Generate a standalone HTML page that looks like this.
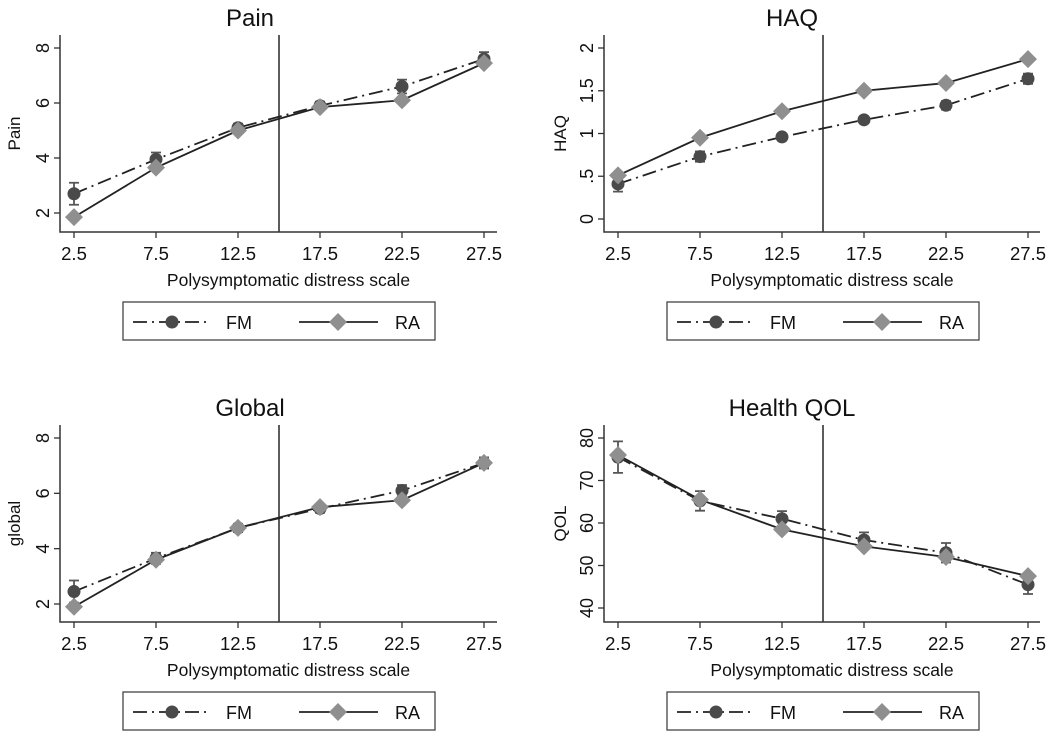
<!DOCTYPE html>
<html><head><meta charset="utf-8">
<style>
html,body{margin:0;padding:0;background:#fff;}
svg{display:block;font-family:"Liberation Sans",Arial,sans-serif;}
</style></head>
<body>
<svg id="fig" width="1050" height="735" viewBox="0 0 1050 735"></svg>
<script>
const xCategories = [2.5, 7.5, 12.5, 17.5, 22.5, 27.5];
const xTickLabels = ["2.5","7.5","12.5","17.5","22.5","27.5"];
const cutoff = 15;

const painFM = [2.7, 3.95, 5.1, 5.9, 6.6, 7.6];
const painFMerr = [0.4, 0.25, 0.15, 0.15, 0.25, 0.25];
const painRA = [1.85, 3.65, 5.0, 5.85, 6.1, 7.45];
const painTicks = [2, 4, 6, 8];
const painTickLabels = ["2","4","6","8"];

const haqFM = [0.41, 0.73, 0.96, 1.16, 1.33, 1.64];
const haqFMerr = [0.09, 0.06, 0.04, 0.04, 0.05, 0.06];
const haqRA = [0.51, 0.95, 1.26, 1.5, 1.59, 1.87];
const haqTicks = [0, 0.5, 1, 1.5, 2];
const haqTickLabels = ["0",".5","1","1.5","2"];

const globalFM = [2.45, 3.65, 4.75, 5.45, 6.1, 7.1];
const globalFMerr = [0.4, 0.2, 0.15, 0.15, 0.2, 0.2];
const globalRA = [1.9, 3.6, 4.75, 5.5, 5.75, 7.1];
const globalTicks = [2, 4, 6, 8];
const globalTickLabels = ["2","4","6","8"];

const qolFM = [75.5, 65.2, 61, 56, 53, 45.5];
const qolFMerr = [3.7, 2.3, 1.8, 1.8, 2.3, 2.2];
const qolRA = [76, 65.5, 58.5, 54.5, 52, 47.5];
const qolTicks = [40, 50, 60, 70, 80];
const qolTickLabels = ["40","50","60","70","80"];

const NS = "http://www.w3.org/2000/svg";
const svg = document.getElementById('fig');
function mk(tag, attrs, parent, text) {
  const e = document.createElementNS(NS, tag);
  for (const k in attrs) e.setAttribute(k, attrs[k]);
  if (text !== undefined) e.textContent = text;
  (parent || svg).appendChild(e);
  return e;
}

function panel(o) {
  const g = mk('g', {});
  
  
  const xs = v => o.x0 + (v - 2.5) / 25 * (o.x1 - o.x0);
  const ys = v => o.y0 + (v - o.v0) / (o.v1 - o.v0) * (o.y1 - o.y0);
  const t = mk('text', {x: o.tx, y: o.top - 9, 'font-size': 24, 'text-anchor': 'middle', fill: '#111'}, g, o.title);
  
  
  const ax = mk('path', {d: `M${o.left},${o.top}V${o.bottom}H${o.right}`, stroke: '#333', 'stroke-width': 1.5, fill: 'none'}, g);
  
  
  o.ticks.forEach((v, i) => {
    const y = ys(v);
    mk('line', {x1: o.left - 6, x2: o.left, y1: y, y2: y, stroke: '#333', 'stroke-width': 1.3}, g);
    const lb = mk('text', {x: 0, y: 0, transform: `translate(${o.left - 11},${y}) rotate(-90)`, 'font-size': 18, 'text-anchor': 'middle', fill: '#111'}, g, o.tickLabels[i]);
    
    
  });
  const yt = mk('text', {x: 0, y: 0, transform: `translate(${o.ylabX},${(o.top + o.bottom) / 2}) rotate(-90)`, 'font-size': 17, 'text-anchor': 'middle', fill: '#111'}, g, o.ylab);
  
  
  xCategories.forEach((v, i) => {
    const x = xs(v);
    mk('line', {x1: x, x2: x, y1: o.bottom, y2: o.bottom + 6, stroke: '#333', 'stroke-width': 1.3}, g);
    const lb = mk('text', {x: x, y: o.bottom + 28, 'font-size': 18.5, 'text-anchor': 'middle', fill: '#111'}, g, xTickLabels[i]);
    
    
  });
  const xt = mk('text', {x: (o.left + o.right) / 2 + 10, y: o.bottom + 54, 'font-size': 17.5, 'text-anchor': 'middle', fill: '#111'}, g, 'Polysymptomatic distress scale');
  
  
  const cl = mk('line', {x1: xs(cutoff), x2: xs(cutoff), y1: o.top, y2: o.bottom, stroke: '#333', 'stroke-width': 1.6}, g);
  
  
  xCategories.forEach((v, i) => {
    const x = xs(v), a = ys(o.fm[i] - o.err[i]), b = ys(o.fm[i] + o.err[i]);
    const eb = mk('path', {d: `M${x},${a}V${b}M${x - 5},${a}H${x + 5}M${x - 5},${b}H${x + 5}`, stroke: '#555', 'stroke-width': 1.8, fill: 'none'}, g);
    
    
  });
  const fmPts = xCategories.map((v, i) => xs(v) + ',' + ys(o.fm[i])).join(' ');
  const raPts = xCategories.map((v, i) => xs(v) + ',' + ys(o.ra[i])).join(' ');
  const fl = mk('polyline', {points: fmPts, stroke: '#222', 'stroke-width': 1.8, fill: 'none', 'stroke-dasharray': '14,5,2,5'}, g);
  
  
  const rl = mk('polyline', {points: raPts, stroke: '#222', 'stroke-width': 1.8, fill: 'none'}, g);
  
  
  xCategories.forEach((v, i) => {
    const c = mk('circle', {cx: xs(v), cy: ys(o.fm[i]), r: 6.5, fill: '#4a4a4a'}, g);
    
    
  });
  xCategories.forEach((v, i) => {
    const x = xs(v), y = ys(o.ra[i]);
    const d = mk('polygon', {points: `${x},${y - 9} ${x + 9},${y} ${x},${y + 9} ${x - 9},${y}`, fill: '#8f8f8f'}, g);
    
    
  });
  const L = o.legX, T = o.bottom + 70;
  const lg = mk('g', {}, g);
  
  
  mk('rect', {x: L, y: T, width: 312, height: 38, fill: '#fff', stroke: '#444', 'stroke-width': 1.3}, lg);
  const my = T + 20;
  mk('line', {x1: L + 10, x2: L + 88, y1: my, y2: my, stroke: '#222', 'stroke-width': 1.8, 'stroke-dasharray': '14,5,2,5'}, lg);
  mk('circle', {cx: L + 49, cy: my, r: 6.5, fill: '#4a4a4a'}, lg);
  mk('text', {x: L + 103, y: my + 7, 'font-size': 18, fill: '#111'}, lg, 'FM');
  mk('line', {x1: L + 176, x2: L + 255, y1: my, y2: my, stroke: '#222', 'stroke-width': 1.8}, lg);
  mk('polygon', {points: `${L + 215},${my - 9} ${L + 224},${my} ${L + 215},${my + 9} ${L + 206},${my}`, fill: '#8f8f8f'}, lg);
  mk('text', {x: L + 272, y: my + 7, 'font-size': 18, fill: '#111'}, lg, 'RA');
}

const R = 390;
panel({id: 'pain', title: 'Pain', tx: 250, left: 60, right: 497, top: 35, bottom: 232, x0: 74, x1: 484,
  v0: 2, v1: 8, y0: 213, y1: 48, ticks: painTicks, tickLabels: painTickLabels, ylab: 'Pain', ylabX: 20,
  fm: painFM, err: painFMerr, ra: painRA, legX: 123});
panel({id: 'haq', title: 'HAQ', tx: 792, left: 604, right: 1040, top: 35, bottom: 232, x0: 618, x1: 1028,
  v0: 0, v1: 2, y0: 219, y1: 48, ticks: haqTicks, tickLabels: haqTickLabels, ylab: 'HAQ', ylabX: 566,
  fm: haqFM, err: haqFMerr, ra: haqRA, legX: 667});
panel({id: 'global', title: 'Global', tx: 250, left: 60, right: 497, top: 35 + R, bottom: 232 + R, x0: 74, x1: 484,
  v0: 2, v1: 8, y0: 604, y1: 438, ticks: globalTicks, tickLabels: globalTickLabels, ylab: 'global', ylabX: 20,
  fm: globalFM, err: globalFMerr, ra: globalRA, legX: 123});
panel({id: 'qol', title: 'Health QOL', tx: 792, left: 604, right: 1040, top: 35 + R, bottom: 232 + R, x0: 618, x1: 1028,
  v0: 40, v1: 80, y0: 608, y1: 438, ticks: qolTicks, tickLabels: qolTickLabels, ylab: 'QOL', ylabX: 566,
  fm: qolFM, err: qolFMerr, ra: qolRA, legX: 667});
</script>
</body></html>
